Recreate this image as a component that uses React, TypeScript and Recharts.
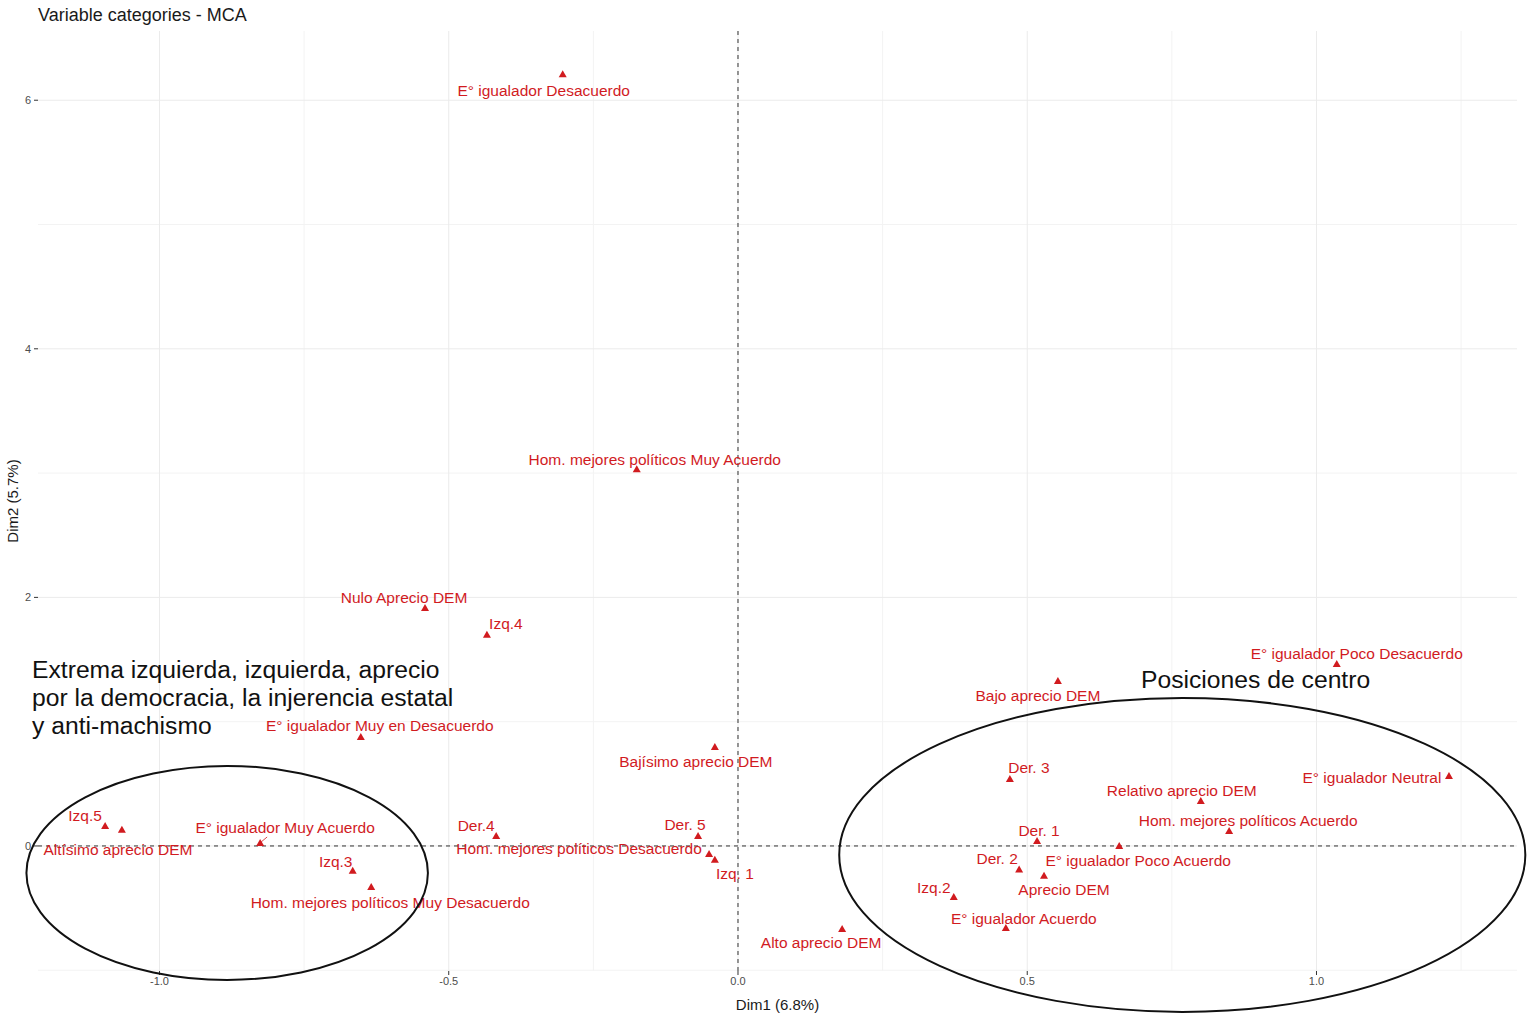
import React from 'react';
import { ScatterChart, Scatter, XAxis, YAxis, ReferenceLine, ReferenceDot, Label } from 'recharts';

const RED = '#d11b1f';
const FONT = '"Liberation Sans", Arial, sans-serif';

const CATEGORIES = [
  'E° igualador Desacuerdo', 'Hom. mejores políticos Muy Acuerdo', 'Nulo Aprecio DEM', 'Izq.4',
  'E° igualador Poco Desacuerdo', 'Bajo aprecio DEM', 'E° igualador Muy en Desacuerdo', 'Bajísimo aprecio DEM',
  'Der. 3', 'E° igualador Neutral', 'Relativo aprecio DEM', 'Hom. mejores políticos Acuerdo',
  'Der. 1', 'E° igualador Poco Acuerdo', 'Der. 2', 'Aprecio DEM',
  'Izq.2', 'E° igualador Acuerdo', 'Alto aprecio DEM', 'Der. 5',
  'Hom. mejores políticos Desacuerdo', 'Izq. 1', 'Der.4', 'Izq.5',
  'Altísimo aprecio DEM', 'E° igualador Muy Acuerdo', 'Izq.3', 'Hom. mejores políticos Muy Desacuerdo',
];
const DIM1 = [
  -0.303, -0.175, -0.541, -0.434,
  1.035, 0.553, -0.652, -0.040,
  0.470, 1.229, 0.800, 0.849,
  0.517, 0.659, 0.486, 0.529,
  0.373, 0.463, 0.180, -0.069,
  -0.050, -0.040, -0.418, -1.094,
  -1.065, -0.826, -0.666, -0.634,
];
const DIM2 = [
  6.21, 3.03, 1.915, 1.70,
  1.464, 1.327, 0.877, 0.796,
  0.539, 0.563, 0.362, 0.121,
  0.04, 0.0, -0.19, -0.24,
  -0.41, -0.66, -0.668, 0.08,
  -0.064, -0.11, 0.08, 0.16,
  0.13, 0.024, -0.20, -0.33,
];
// repelled label offsets in px (layout only)
const LABEL_DX = [-19, 18, -21, 19, 20, -20, 19, -19, 19, -77, -19, 19, 2, 19, -22, 20, -20, 18, -21, -13, -130, 20, -20, -20, -4, 25, -17, 19];
const LABEL_DY = [16, -10, -10, -11, -11, 14, -11, 14, -11, 2, -10, -10, -10, 15, -11, 14, -9, -9, 14, -12, -5, 14, -11, -11, 20, -15, -9, 16];

const X_TICKS = [-1, -0.5, 0, 0.5, 1];
const Y_TICKS = [0, 2, 4, 6];
const X_MINOR = [-0.75, -0.25, 0.25, 0.75, 1.25];
const Y_MINOR = [-1, 1, 3, 5];

const X_DOMAIN = [-1.21, 1.3466];
const Y_DOMAIN = [-1.006, 6.557];

const W = 1533;
const H = 1013;
const MARGIN = { top: 31, right: 16, left: 8, bottom: 0 };
const PLOT_W = W - 38 - MARGIN.right;
const PLOT_H = H - MARGIN.top - 42;
const PX_X = PLOT_W / (X_DOMAIN[1] - X_DOMAIN[0]);
const PX_Y = PLOT_H / (Y_DOMAIN[1] - Y_DOMAIN[0]);

// hand-drawn group ellipses (data units)
const ELLIPSES = [
  { x: -0.883, y: -0.217, rx: 0.347, ry: 0.861 },
  { x: 0.768, y: -0.072, rx: 0.593, ry: 1.263 },
];

const points = CATEGORIES.map((name, i) => ({ name, x: DIM1[i], y: DIM2[i], i }));

const Marker = (props: any) => {
  const { cx, cy, payload } = props;
  if (cx == null || cy == null) return null;
  const i = payload.i;
  const tx = cx + LABEL_DX[i];
  const ty = cy + LABEL_DY[i];
  return (
    <g>
      <polygon points={`${cx},${cy - 4} ${cx - 4},${cy + 3} ${cx + 4},${cy + 3}`} fill={RED} />
      {payload.name === 'E° igualador Muy Acuerdo' && (
        <line x1={cx + 7} y1={cy - 6} x2={cx + 1} y2={cy - 1} stroke={RED} strokeWidth={0.8} />
      )}
      <text x={tx} y={ty} textAnchor="middle" dominantBaseline="central" fontSize={15.5} fill={RED} fontFamily={FONT}>
        {payload.name}
      </text>
    </g>
  );
};

const fmtX = (v: number) => v.toFixed(1);

export default function App() {
  return (
    <div style={{ position: 'absolute', left: 0, top: 0, width: W, height: H, background: '#fff', fontFamily: FONT }}>
      <div style={{ position: 'absolute', left: 38, top: 5, fontSize: 18, color: '#1a1a1a', whiteSpace: 'nowrap' }}>
        Variable categories - MCA
      </div>
      <ScatterChart width={W} height={H} margin={MARGIN}>
        {X_MINOR.map(v => (
          <ReferenceLine key={`xm${v}`} x={v} stroke="#f3f3f3" strokeWidth={1} />
        ))}
        {Y_MINOR.map(v => (
          <ReferenceLine key={`ym${v}`} y={v} stroke="#f3f3f3" strokeWidth={1} />
        ))}
        {X_TICKS.map(v => (
          <ReferenceLine key={`xj${v}`} x={v} stroke="#ebebeb" strokeWidth={1} />
        ))}
        {Y_TICKS.map(v => (
          <ReferenceLine key={`yj${v}`} y={v} stroke="#ebebeb" strokeWidth={1} />
        ))}
        <XAxis
          type="number"
          dataKey="x"
          domain={X_DOMAIN}
          ticks={X_TICKS}
          allowDataOverflow
          height={42}
          axisLine={false}
          tickLine={{ stroke: '#333' }}
          tickSize={4}
          tickMargin={2}
          tickFormatter={fmtX}
          tick={{ fill: '#4d4d4d', fontSize: 11, fontFamily: FONT }}
        >
          <Label value="Dim1 (6.8%)" position="insideBottom" offset={3} style={{ fill: '#1a1a1a', fontSize: 15, fontFamily: FONT }} />
        </XAxis>
        <YAxis
          type="number"
          dataKey="y"
          domain={Y_DOMAIN}
          ticks={Y_TICKS}
          allowDataOverflow
          width={30}
          axisLine={false}
          tickLine={{ stroke: '#333' }}
          tickSize={4}
          tickMargin={3}
          tick={{ fill: '#4d4d4d', fontSize: 11, fontFamily: FONT }}
        >
          <Label value="Dim2 (5.7%)" angle={-90} position="insideLeft" offset={5} style={{ fill: '#1a1a1a', fontSize: 15, fontFamily: FONT, textAnchor: 'middle' }} />
        </YAxis>
        <ReferenceLine x={0} stroke="#333" strokeDasharray="4 4" strokeWidth={1} />
        <ReferenceLine y={0} stroke="#333" strokeDasharray="4 4" strokeWidth={1} />
        <Scatter data={points} shape={Marker} isAnimationActive={false} />
        {ELLIPSES.map((e, k) => (
          <ReferenceDot
            key={`el${k}`}
            x={e.x}
            y={e.y}
            ifOverflow="visible"
            shape={(p: any) => (
              <ellipse cx={p.cx} cy={p.cy} rx={e.rx * PX_X} ry={e.ry * PX_Y} fill="none" stroke="#111" strokeWidth={2} />
            )}
          />
        ))}
      </ScatterChart>
      <div style={{ position: 'absolute', left: 32, top: 656, fontSize: 24.7, lineHeight: '28px', color: '#111', whiteSpace: 'nowrap' }}>
        Extrema izquierda, izquierda, aprecio<br />
        por la democracia, la injerencia estatal<br />
        y anti-machismo
      </div>
      <div style={{ position: 'absolute', left: 1141, top: 666, fontSize: 24.7, lineHeight: '28px', color: '#111', whiteSpace: 'nowrap' }}>
        Posiciones de centro
      </div>
    </div>
  );
}
